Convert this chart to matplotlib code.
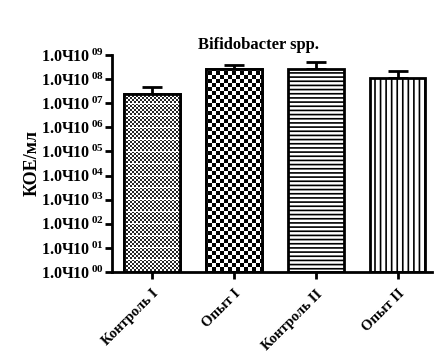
import numpy as np
import matplotlib
matplotlib.use("Agg")
import matplotlib.pyplot as plt

categories = ["Контроль I", "Опыт I", "Контроль II", "Опыт II"]
means = [2.4e7, 2.6e8, 2.6e8, 1.1e8]
errors = [2.4e7, 1.3e8, 2.5e8, 1.1e8]
ytick_exps = list(range(0, 10))
title = "Bifidobacter spp."
ylabel = "КОЕ/мл"

plt.rcParams['mathtext.fontset'] = 'custom'
plt.rcParams['mathtext.rm'] = 'Liberation Serif:bold'
plt.rcParams['mathtext.it'] = 'Liberation Serif:bold'
plt.rcParams['mathtext.bf'] = 'Liberation Serif:bold'
plt.rcParams['font.family'] = ['Liberation Serif', 'DejaVu Serif']
plt.rcParams['font.weight'] = 'bold'
plt.rcParams['hatch.linewidth'] = 1.2

W, H = 438, 358
fig = plt.figure(figsize=(W / 100, H / 100), dpi=100)
x0, x1, ytop, ybot = 112, 432, 55, 272
ax = fig.add_axes([x0 / W, (H - ybot) / H, (x1 - x0) / W, (ybot - ytop) / H])

x = np.arange(len(categories))
hatches = [None, None, '----', '|||']
bars = ax.bar(x, means, width=0.68, bottom=1, color='white', edgecolor='black',
              linewidth=2, zorder=2)
for b, h in zip(bars, hatches):
    if h:
        b.set_hatch(h)
ax.errorbar(x, means, yerr=[[0] * len(means), errors], fmt='none', ecolor='black',
            elinewidth=2, capsize=7, capthick=2, zorder=1)

ax.set_yscale('log')
ax.set_ylim(1, 1e9)
ax.set_xlim(-0.49, 3.42)
ax.set_yticks([10.0 ** e for e in ytick_exps])
ax.set_yticklabels([r'$\mathregular{1.0Ч10\,^{%02d}}$' % e for e in ytick_exps], fontsize=11.5)
ax.minorticks_off()
ax.set_xticks(x)
ax.set_xticklabels(categories, rotation=45, ha='right', rotation_mode='anchor',
                   fontsize=10.5, fontweight='bold')
for s in ['top', 'right']:
    ax.spines[s].set_visible(False)
for s in ['left', 'bottom']:
    ax.spines[s].set_linewidth(2)
ax.tick_params(axis='y', width=2, length=5, pad=1)
ax.tick_params(axis='x', width=2, length=5, pad=6)
ax.set_ylabel(ylabel, fontsize=13, fontweight='bold', labelpad=0)
fig.text(258 / W, 1 - 45 / H, title, ha='center', va='center', fontsize=12, fontweight='bold')

# checkerboard textures for first two bars (drawn in axes pixel space, clipped to bars)
aw, ah = x1 - x0, ybot - ytop
yy, xx = np.mgrid[0:ah, 0:aw]
fine = (((xx // 2) + (yy // 2)) % 2).astype(float)
fine[(yy % 12) == 0] = 1.0
fine = 0.15 + 0.85 * fine
coarse = (((xx // 4) + (yy // 4)) % 2).astype(float)
for b, tex in zip(bars[:2], [fine, coarse]):
    im = ax.imshow(tex, extent=(0, 1, 0, 1), transform=ax.transAxes, cmap='gray',
                   vmin=0, vmax=1, interpolation='nearest', aspect='auto', zorder=2.5)
    im.set_clip_path(b)
    ob = plt.Rectangle(b.get_xy(), b.get_width(), b.get_height(), fill=False,
                       edgecolor='black', linewidth=2, zorder=3)
    ax.add_patch(ob)
ax.set_xlim(-0.49, 3.42)
ax.set_ylim(1, 1e9)

fig.savefig('out.png', dpi=100)
